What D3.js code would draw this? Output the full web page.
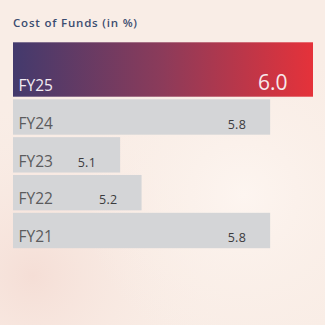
<!DOCTYPE html>
<html>
<head>
<meta charset="utf-8">
<script src="https://cdn.jsdelivr.net/npm/d3@7"></script>
<style>
  html, body { margin: 0; padding: 0; background: #faefe8; }
  svg { display: block; }
</style>
</head>
<body>
<svg id="chart" width="325" height="325"></svg>
<script>
const title = "Cost of Funds (in %)";
const categories = ["FY25", "FY24", "FY23", "FY22", "FY21"];
const values = [6.0, 5.8, 5.1, 5.2, 5.8];
const valueLabels = ["6.0", "5.8", "5.1", "5.2", "5.8"];
const highlight = "FY25";

const W = 325, H = 325;
const svg = d3.select("#chart");

// background
const defs = svg.append("defs");
const bg1 = defs.append("radialGradient").attr("id", "bg1").attr("cx", "0.1").attr("cy", "0.85").attr("r", "0.6");
bg1.append("stop").attr("offset", "0").attr("stop-color", "#f5ded6");
bg1.append("stop").attr("offset", "1").attr("stop-color", "#faefe8").attr("stop-opacity", 0);
const bg2 = defs.append("radialGradient").attr("id", "bg2").attr("cx", "0.75").attr("cy", "0.6").attr("r", "0.5");
bg2.append("stop").attr("offset", "0").attr("stop-color", "#fdf5f0");
bg2.append("stop").attr("offset", "1").attr("stop-color", "#faefe8").attr("stop-opacity", 0);
svg.append("rect").attr("width", W).attr("height", H).attr("fill", "#f9ede6");
svg.append("rect").attr("width", W).attr("height", H).attr("fill", "url(#bg1)");
svg.append("rect").attr("width", W).attr("height", H).attr("fill", "url(#bg2)");

const grad = defs.append("linearGradient").attr("id", "hl").attr("x1", "0").attr("x2", "1").attr("y1", "0").attr("y2", "0");
grad.append("stop").attr("offset", "0").attr("stop-color", "#433a6d");
grad.append("stop").attr("offset", "0.5").attr("stop-color", "#8c3b5a");
grad.append("stop").attr("offset", "1").attr("stop-color", "#e5323a");

const x0 = 13;
const x = d3.scaleLinear().domain([4.6, 6.0]).range([x0, x0 + 300]);

const rest = categories.filter(c => c !== highlight);
const yRest = d3.scaleBand().domain(rest).range([99.3, 248.2]).paddingInner(0.065).paddingOuter(0);

function barTop(c) { return c === highlight ? 42.3 : yRest(c); }
function barH(c) { return c === highlight ? 54.4 : yRest.bandwidth(); }

const data = categories.map((c, i) => ({ c, v: values[i], label: valueLabels[i] }));

svg.append("text")
  .attr("x", 13).attr("y", 26.7)
  .attr("font-family", "'Open Sans', sans-serif")
  .attr("font-weight", 600)
  .attr("font-size", 11.5)
  .attr("letter-spacing", 0.8)
  .attr("fill", "#3b4c70")
  .text(title);

const g = svg.append("g");
const rows = g.selectAll("g.row").data(data).join("g").attr("class", "row");

rows.append("rect")
  .attr("x", x0)
  .attr("y", d => barTop(d.c))
  .attr("width", d => x(d.v) - x0)
  .attr("height", d => barH(d.c))
  .attr("fill", d => d.c === highlight ? "url(#hl)" : "#d4d5d7");

rows.append("text")
  .attr("x", x0 + 5.5)
  .attr("y", d => barTop(d.c) + barH(d.c) - 6)
  .attr("font-family", "'Open Sans', sans-serif")
  .attr("font-size", 15.5)
  .attr("fill", d => d.c === highlight ? "#f3ecf2" : "#5b5b5d")
  .text(d => d.c);

rows.append("text")
  .attr("x", d => x(d.v) - (d.c === highlight ? 25.5 : 24))
  .attr("y", d => barTop(d.c) + barH(d.c) - (d.c === highlight ? 6.5 : 6))
  .attr("text-anchor", "end")
  .attr("font-family", "'Open Sans', sans-serif")
  .attr("font-weight", d => d.c === highlight ? 400 : 500)
  .attr("font-size", d => d.c === highlight ? 21 : 12.5)
  .attr("letter-spacing", d => d.c === highlight ? 0 : 0.3)
  .attr("fill", d => d.c === highlight ? "#f7e9ec" : "#3b3b3d")
  .text(d => d.label);
</script>
</body>
</html>
